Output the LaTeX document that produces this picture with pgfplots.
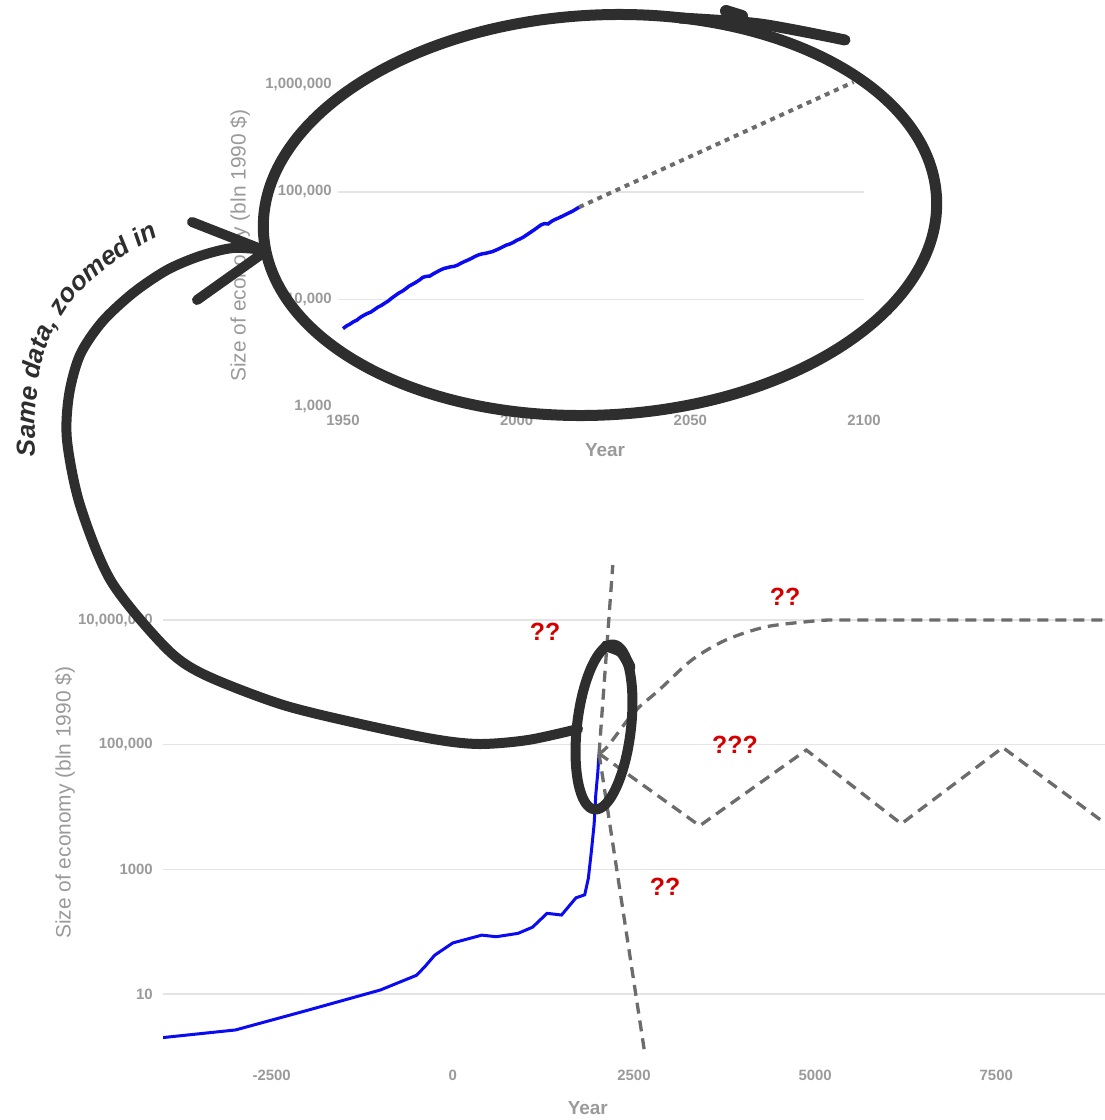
\documentclass[border=0pt]{standalone}
\usepackage{pgfplots}
\pgfplotsset{compat=1.18}
\usepackage{fontspec}
\setmainfont{Liberation Sans}
\usetikzlibrary{decorations.text}

\definecolor{labelgray}{HTML}{9A9A9A}
\definecolor{gridgray}{HTML}{E4E4E4}
\definecolor{trendgray}{HTML}{6C6C6C}
\definecolor{ink}{HTML}{2E2E2E}
\definecolor{qred}{HTML}{D40000}
\definecolor{gdpblue}{HTML}{0B0BF2}

\begin{document}
\begin{tikzpicture}
\useasboundingbox (0,0) rectangle (1105bp,-1120bp);

% ---------- recent world output, 1950 onwards ----------
\begin{axis}[
  scale only axis,
  ymode=log,
  axis line style={draw=none},
  major tick length=0pt,
  minor tick length=0pt,
  tick label style={font=\fontsize{15}{15}\selectfont\bfseries, text=labelgray, inner sep=0pt},
  major grid style={gridgray, line width=1.5bp},
  ylabel={Size of economy (bln 1990 \$)},
  xlabel={Year},
  at={(338bp,-406.8bp)}, anchor=south west,
  width=526bp, height=322.5bp,
  xmin=1948.56, xmax=2100, ymin=1000, ymax=1000000,
  xtick={1950,2000,2050,2100}, xticklabels={1950,2000,2050,2100},
  ytick={1000,10000,100000,1000000},
  yticklabels={{1,000},{10,000},{100,000},{1,000,000}},
  extra y ticks={10000,100000}, extra y tick labels={},
  extra y tick style={ymajorgrids=true},
  xticklabel style={anchor=north, yshift=-8bp},
  yticklabel style={anchor=east, xshift=-6bp},
  ylabel style={font=\fontsize{21}{21}\selectfont, text=labelgray, at={(axis description cs:-0.1863,0.5)}, anchor=center},
  xlabel style={font=\fontsize{19}{19}\selectfont\bfseries, text=labelgray, at={(axis description cs:0.5076,-0.1353)}, anchor=center},
  clip=false,
]
\addplot[gdpblue, line width=3.5bp] coordinates {
  (1950,5336) (1951,5650) (1952,5880) (1953,6180) (1954,6400) (1955,6800)
  (1956,7100) (1957,7380) (1958,7600) (1959,8000) (1960,8430) (1961,8750)
  (1962,9200) (1963,9630) (1964,10250) (1965,10800) (1966,11400) (1967,11860)
  (1968,12500) (1969,13250) (1970,13800) (1971,14400) (1972,15100) (1973,16020)
  (1974,16340) (1975,16460) (1976,17260) (1977,17960) (1978,18700) (1979,19320)
  (1980,19700) (1981,20050) (1982,20250) (1983,20830) (1984,21700) (1985,22470)
  (1986,23200) (1987,24040) (1988,25040) (1989,25850) (1990,26460) (1991,26740)
  (1992,27280) (1993,27760) (1994,28660) (1995,29620) (1996,30730) (1997,31900)
  (1998,32650) (1999,33780) (2000,35370) (2001,36500) (2002,38000) (2003,40000)
  (2004,42000) (2005,44200) (2006,46600) (2007,49200) (2008,50600) (2009,50200)
  (2010,53000) (2011,55200) (2012,57000) (2013,59000) (2014,61200) (2015,63500)
  (2016,65800) (2017,68800) (2018,72000)
};
\addplot[trendgray, line width=4bp, dash pattern=on 5bp off 5bp] coordinates {
  (2018,72000) (2097,1050000)
};
\end{axis}

% ---------- the long view, 4000 BC onwards ----------
\begin{axis}[
  scale only axis,
  ymode=log,
  axis line style={draw=none},
  major tick length=0pt,
  minor tick length=0pt,
  tick label style={font=\fontsize{15}{15}\selectfont\bfseries, text=labelgray, inner sep=0pt},
  major grid style={gridgray, line width=1.5bp},
  ylabel={Size of economy (bln 1990 \$)},
  xlabel={Year},
  at={(163bp,-1056.33bp)}, anchor=south west,
  width=942bp, height=498.67bp,
  xmin=-4000, xmax=9000, ymin=1, ymax=100000000,
  xtick={-2500,0,2500,5000,7500}, xticklabels={-2500,0,2500,5000,7500},
  ytick={10,1000,100000,10000000},
  yticklabels={10,1000,{100,000},{10,000,000}},
  ymajorgrids,
  xticklabel style={anchor=north, yshift=-14bp},
  yticklabel style={anchor=east, xshift=-10bp},
  ylabel style={font=\fontsize{21}{21}\selectfont, text=labelgray, at={(axis description cs:-0.104,0.5086)}, anchor=center},
  xlabel style={font=\fontsize{19}{19}\selectfont\bfseries, text=labelgray, at={(axis description cs:0.451,-0.1044)}, anchor=center},
]
\addplot[gdpblue, line width=3bp] coordinates {
  (-4000,2.0) (-3000,2.65) (-2000,5.5) (-1000,11.6) (-500,20) (-380,28) (-250,42)
  (0,66) (400,88) (600,83) (900,94) (1100,118) (1300,197) (1500,185)
  (1700,350) (1820,390) (1870,720) (1913,2000) (1950,5336) (1960,8430)
  (1973,16020) (1990,26460) (2000,35370) (2010,53000) (2018,72000)
};
% runaway growth
\addplot[trendgray, line width=3.3bp, dash pattern=on 11bp off 7bp] coordinates {
  (2018,72000) (2207,76000000)
};
% collapse
\addplot[trendgray, line width=3.3bp, dash pattern=on 11bp off 7bp] coordinates {
  (2018,72000) (2648,1.13)
};
% levelling off
\addplot[trendgray, line width=3.3bp, dash pattern=on 11bp off 7bp, smooth, tension=0.5] coordinates {
  (2018,72000) (2140,95000) (2500,331000) (2850,760000) (3300,2290000)
  (3770,4790000) (4320,7760000) (4950,9550000) (5230,10000000)
  (6000,10000000) (9000,10000000)
};
% boom and bust
\addplot[trendgray, line width=3.3bp, dash pattern=on 11bp off 7bp] coordinates {
  (2018,72000) (3407,5000) (4878,82000) (6189,5370) (7590,90000) (9000,5500)
};
\end{axis}

% ---------- hand-drawn notes ----------
\begin{scope}[x=1bp, y=1bp, line cap=round, line join=round]
  % loop round the recent chart, with the pen overshooting at the top
  \draw[ink, line width=11bp, rotate around={3:(600,-215)}] (600,-215) ellipse [x radius=337, y radius=200];
  \draw[ink, line width=11bp] plot[smooth] coordinates {(680,-18) (760,-24) (845,-40)};
  \draw[ink, line width=12bp] (726,-11) -- (742,-16);
  % small loop round the present day
  \draw[ink, line width=10bp, rotate around={-6.6:(604,-727)}] (604,-727) ellipse [x radius=27, y radius=83];
  \draw[ink, line width=11bp] plot[smooth] coordinates {(606,-646) (621,-652) (630,-667)};
  % connecting arrow
  \draw[ink, line width=10bp] plot[smooth] coordinates {
    (578,-729) (528,-740) (479,-744) (433,-739) (356,-723) (280,-704) (203,-674)
    (165,-647) (111,-581) (80,-505) (67,-440) (69,-395) (80,-355) (102,-322)
    (133,-293) (167,-270) (200,-256) (233,-248) (265,-250)};
  \draw[ink, line width=10bp] (192,-222) -- (266,-251) -- (197,-300);
  \path[decorate, decoration={text along path, text color=ink,
      text={|\fontsize{26}{26}\selectfont\bfseries\itshape|Same data, zoomed in},
      text align=left}]
    plot[smooth] coordinates {(36,-456) (35,-421) (39,-380) (49,-340) (75,-297)
      (111,-265) (151,-240) (190,-224) (230,-213)};
  % question marks
  \begin{scope}[every node/.style={text=qred, font=\fontsize{25}{25}\selectfont\bfseries, inner sep=0pt}]
    \node at (545,-632) {??};
    \node at (785,-597) {??};
    \node at (735,-745) {???};
    \node at (665,-887) {??};
  \end{scope}
\end{scope}
\end{tikzpicture}
\end{document}
